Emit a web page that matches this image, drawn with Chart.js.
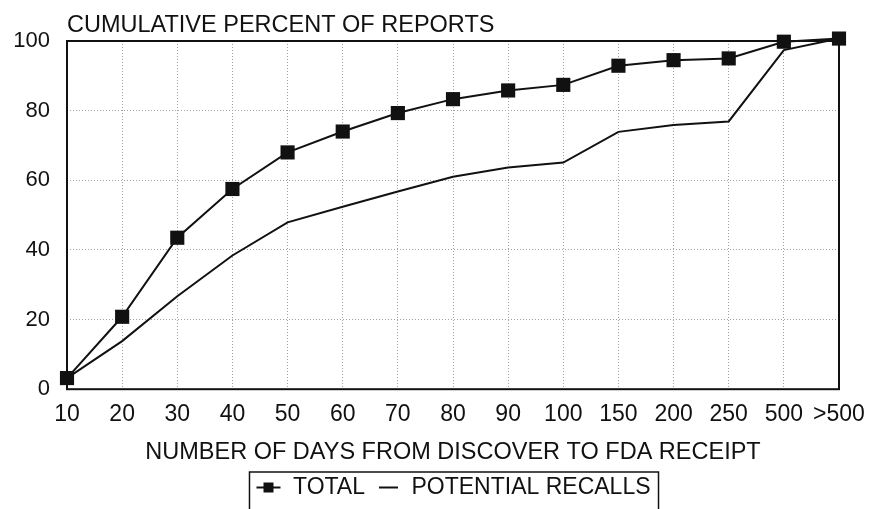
<!DOCTYPE html>
<html>
<head>
<meta charset="utf-8">
<title>Cumulative percent of reports</title>
<script src="https://cdn.jsdelivr.net/npm/chart.js@4.4.1/dist/chart.umd.min.js"></script>
<style>
    html, body { margin: 0; padding: 0; background: #fff; }
    #wrap { width: 871px; height: 509px; position: relative; }
</style>
</head>
<body>
<div id="wrap"><canvas id="daysChart"></canvas></div>
<script>
// days from discovery to FDA receipt
const dayLabels = ['10', '20', '30', '40', '50', '60', '70', '80', '90', '100', '150', '200', '250', '500', '>500'];
// cumulative percent
const totalPct = [3.2, 20.8, 43.5, 57.5, 68, 74, 79.3, 83.3, 85.8, 87.4, 92.9, 94.5, 95, 99.8, 100.7];
const recallPct = [3.2, 13.8, 26.7, 38.4, 47.9, 52.4, 56.8, 61, 63.7, 65.1, 73.9, 75.9, 76.9, 97.4, 100.7];
const yTicks = [0, 20, 40, 60, 80, 100];

const chartTitle = 'CUMULATIVE PERCENT OF REPORTS';
const xTitle = 'NUMBER OF DAYS FROM DISCOVER TO FDA RECEIPT';

const FONT = '"Liberation Sans", Arial, Helvetica, sans-serif';
const INK = '#111';

// small pictures for the legend: line with square, and plain line
function legendIcon(withSquare) {
    const c = document.createElement('canvas');
    c.width = 26;
    c.height = 16;
    const g = c.getContext('2d');
    g.strokeStyle = INK;
    g.lineWidth = 2;
    g.beginPath();
    g.moveTo(withSquare ? 1 : 5, 8);
    g.lineTo(withSquare ? 25 : 24, 8);
    g.stroke();
    if (withSquare) {
        g.fillStyle = INK;
        g.fillRect(8, 3, 10, 10);
    }
    return c;
}
const legendIcons = [legendIcon(true), legendIcon(false)];

// title at top-left of the plot, frame round the plot, box round the legend
const extrasPlugin = {
    id: 'extras',
    afterLayout(chart) {
        // center the legend under the plot instead of the whole canvas
        const lg = chart.legend;
        const shift = (chart.chartArea.left + chart.chartArea.right) / 2 - (lg.left + lg.right) / 2;
        lg.left += shift;
        lg.right += shift;
    },
    afterDraw(chart) {
        const { ctx, chartArea } = chart;
        ctx.save();
        ctx.fillStyle = INK;
        ctx.font = '23.5px ' + FONT;
        ctx.textAlign = 'left';
        ctx.textBaseline = 'alphabetic';
        ctx.fillText(chartTitle, chartArea.left, 32);

        ctx.strokeStyle = INK;
        ctx.lineWidth = 2;
        ctx.strokeRect(chartArea.left, chartArea.top, chartArea.right - chartArea.left, chartArea.bottom - chartArea.top);

        const lg = chart.legend;
        if (lg.lineWidths && lg.lineWidths.length) {
            const pad = lg.options.labels.padding;
            const rowW = lg.lineWidths[0];
            const x0 = (lg.left + pad + lg.right - rowW) / 2;
            const x1 = x0 - 6;
            const x2 = x0 + rowW - pad + 8;
            ctx.lineWidth = 1.5;
            ctx.strokeRect(x1, lg.top + 5, x2 - x1, 60);
        }
        ctx.restore();
    }
};

const ctx = document.getElementById('daysChart').getContext('2d');

new Chart(ctx, {
    type: 'line',
    data: {
        labels: dayLabels,
        datasets: [
            {
                label: 'TOTAL',
                data: totalPct,
                borderColor: INK,
                backgroundColor: INK,
                borderWidth: 2,
                pointStyle: 'rect',
                pointRadius: 10,
                pointBorderWidth: 0,
                tension: 0,
                fill: false,
                clip: false
            },
            {
                label: 'POTENTIAL RECALLS',
                data: recallPct,
                borderColor: INK,
                backgroundColor: INK,
                borderWidth: 2,
                pointRadius: 0,
                tension: 0,
                fill: false,
                clip: false
            }
        ]
    },
    options: {
        responsive: true,
        maintainAspectRatio: false,
        animation: false,
        layout: {
            // plot box: x 67..839, y 41..390
            padding: { top: 41, right: 32, left: 0, bottom: 0 }
        },
        plugins: {
            title: { display: false },
            tooltip: { enabled: false },
            legend: {
                position: 'bottom',
                labels: {
                    color: INK,
                    font: { family: FONT, size: 23 },
                    usePointStyle: true,
                    pointStyleWidth: 26,
                    boxHeight: 16,
                    padding: 9,
                    generateLabels(chart) {
                        const items = Chart.defaults.plugins.legend.labels.generateLabels(chart);
                        items.forEach((it, i) => { it.pointStyle = legendIcons[i]; });
                        return items;
                    }
                }
            }
        },
        scales: {
            x: {
                offset: false,
                afterFit(scale) {
                    scale.paddingLeft = 0;
                    scale.paddingRight = 0;
                },
                grid: { color: '#a0a0a0', lineWidth: 1, drawTicks: false },
                border: { display: false, dash: [1, 2] },
                ticks: {
                    color: INK,
                    font: { family: FONT, size: 23 },
                    padding: 12,
                    maxRotation: 0,
                    autoSkip: false
                },
                title: {
                    display: true,
                    text: xTitle,
                    color: INK,
                    font: { family: FONT, size: 23.5 },
                    padding: { top: -2, bottom: 0 }
                }
            },
            y: {
                min: 0,
                max: 100,
                afterFit(scale) { scale.width = 67; },
                afterBuildTicks(scale) { scale.ticks = yTicks.map(v => ({ value: v })); },
                grid: { color: '#a0a0a0', lineWidth: 1, drawTicks: false },
                border: { display: false, dash: [1, 2] },
                ticks: {
                    color: INK,
                    font: { family: FONT, size: 22 },
                    padding: 17
                }
            }
        }
    },
    plugins: [extrasPlugin]
});
</script>
</body>
</html>
